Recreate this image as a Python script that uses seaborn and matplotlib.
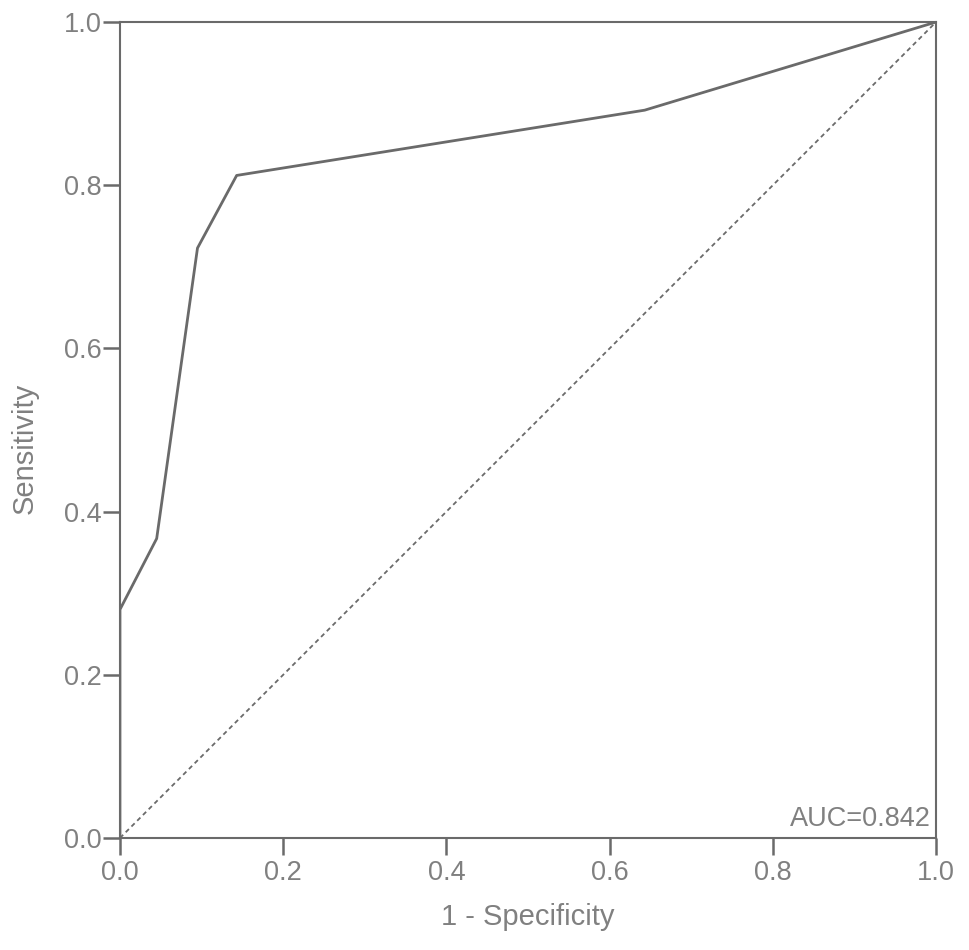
import pandas as pd
import matplotlib
matplotlib.use("Agg")
import matplotlib.pyplot as plt
import seaborn as sns

# ROC curve points
fpr = [0.0, 0.0, 0.045, 0.095, 0.143, 0.643, 1.0]
tpr = [0.0, 0.28, 0.367, 0.723, 0.812, 0.892, 1.0]
ref_x = [0.0, 1.0]
ref_y = [0.0, 1.0]
ticks = [0.0, 0.2, 0.4, 0.6, 0.8, 1.0]
auc_label = "AUC=0.842"

sns.set_style("white", {"xtick.bottom": True, "ytick.left": True})
plt.rcParams['font.family'] = ['Liberation Sans', 'DejaVu Sans']

gray = "#6a6a6a"
text_gray = "#808080"

fig = plt.figure(figsize=(9.69, 9.5), dpi=100)
ax = fig.add_axes([0.1238, 0.1179, 0.8422, 0.8589])

df = pd.DataFrame({"fpr": fpr, "tpr": tpr})
sns.lineplot(data=df, x="fpr", y="tpr", sort=False, estimator=None,
             color=gray, linewidth=2.0, ax=ax)
ax.plot(ref_x, ref_y, color=gray, linestyle=(0, (2.5, 2)), linewidth=1.3)

ax.set_xlim(0, 1)
ax.set_ylim(0, 1)
ax.set_xticks(ticks)
ax.set_yticks(ticks)
ax.set_xticklabels([f"{t:.1f}" for t in ticks])
ax.set_yticklabels([f"{t:.1f}" for t in ticks])
ax.tick_params(axis="both", which="major", direction="out", length=12, width=1.8,
               color=gray, labelcolor=text_gray, labelsize=19.5,
               bottom=True, left=True)
ax.tick_params(axis="x", pad=4)
ax.tick_params(axis="y", pad=1)
for s in ax.spines.values():
    s.set_color(gray)
    s.set_linewidth(1.5)

ax.set_xlabel("1 - Specificity", fontsize=21, color=text_gray)
ax.set_ylabel("Sensitivity", fontsize=21, color=text_gray)
ax.xaxis.set_label_coords(0.5, -0.080)
ax.yaxis.set_label_coords(-0.099, 0.478)
ax.text(0.993, 0.007, auc_label, transform=ax.transAxes, ha="right", va="bottom",
        fontsize=19.5, color=text_gray)

fig.savefig("out.png", dpi=100)
